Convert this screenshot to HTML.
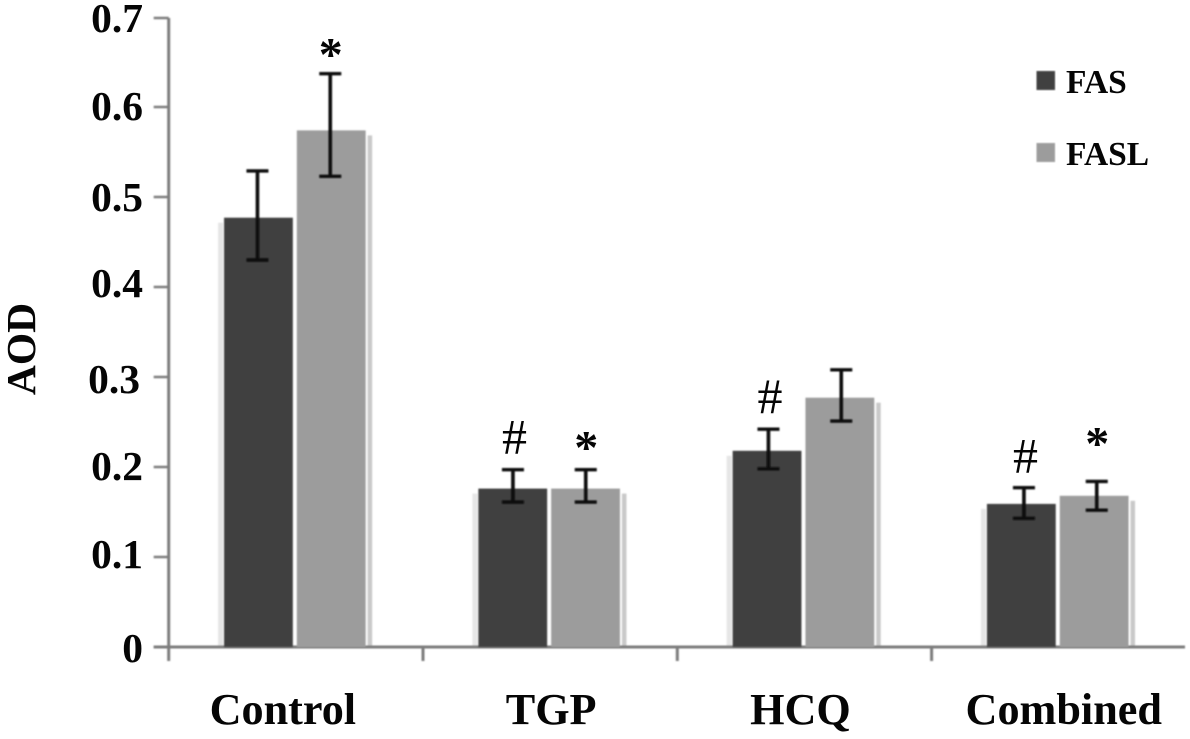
<!DOCTYPE html>
<html>
<head>
<meta charset="utf-8">
<title>AOD of FAS and FASL by treatment group</title>
<style>
  html, body { margin: 0; padding: 0; background: #fff; }
  svg { display: block; }
  text { font-family: "Liberation Serif", serif; font-weight: bold; fill: #050505; }
</style>
</head>
<body>
<svg id="chart" width="1190" height="739" viewBox="0 0 1190 739" xmlns="http://www.w3.org/2000/svg">
  <defs>
    <filter id="soft" x="-5%" y="-5%" width="110%" height="110%"><feGaussianBlur stdDeviation="0.7"/></filter>
    <filter id="softer" x="-20%" y="-5%" width="140%" height="110%"><feGaussianBlur stdDeviation="0.9"/></filter>
  </defs>
  <g id="shadows" filter="url(#softer)"></g>
  <g id="axes" filter="url(#soft)"></g>
  <g id="bars" filter="url(#soft)"></g>
  <g id="errors" filter="url(#soft)"></g>
  <g id="labels"></g>
  <g id="legend"></g>
</svg>
<script>
const categories = ['Control', 'TGP', 'HCQ', 'Combined'];
const fasValues = [0.477, 0.176, 0.218, 0.159];
const faslValues = [0.574, 0.176, 0.277, 0.168];
const fasUpper = [0.529, 0.197, 0.242, 0.177];
const fasLower = [0.430, 0.161, 0.198, 0.143];
const faslUpper = [0.637, 0.197, 0.308, 0.184];
const faslLower = [0.523, 0.161, 0.251, 0.152];
const fasMarks = ['', '#', '#', '#'];
const faslMarks = ['*', '*', '', '*'];
const yTicks = [0, 0.1, 0.2, 0.3, 0.4, 0.5, 0.6, 0.7];
const yTickLabels = ['0', '0.1', '0.2', '0.3', '0.4', '0.5', '0.6', '0.7'];

const NS = 'http://www.w3.org/2000/svg';
const plotLeft = 168.7, plotBottom = 647, groupWidth = 254.3, unitPx = 900;
const barWidth = 68.8, barGap = 4;
const FAS_COLOR = '#404040', FASL_COLOR = '#9c9c9c', AXIS_COLOR = '#7d7d7d', INK = '#0a0a0a';
// hand-placement nudges for the scanned labels (pixels)
const yLabelDrop = [15, 11, 13, 16, 10, 14, 13, 15];
const yLabelShift = [0, 0, 0, -3, 0, 0, 0, 0];
const xLabelShift = [-12, 2, -3, 6];
const fasMarkLift = [0, 16, 16, 15];
const faslMarkLift = [3, 6, 0, 22];

function yScale(v) { return plotBottom - v * unitPx; }
function groupCenter(i) { return plotLeft + groupWidth * (i + 0.5) - 1; }
function make(parent, tag, attrs) {
  const el = document.createElementNS(NS, tag);
  Object.keys(attrs).forEach(k => el.setAttribute(k, attrs[k]));
  parent.appendChild(el);
  return el;
}
const axes = document.getElementById('axes');
const bars = document.getElementById('bars');
const shadows = document.getElementById('shadows');
const errors = document.getElementById('errors');
const labels = document.getElementById('labels');
const legend = document.getElementById('legend');

// axes
const yAxis = make(axes, 'line', { x1: plotLeft, x2: plotLeft, y1: yScale(0.7) + 1, y2: plotBottom + 14, stroke: AXIS_COLOR, 'stroke-width': 3 });


const xAxis = make(axes, 'line', { x1: plotLeft - 15, x2: 1185, y1: plotBottom, y2: plotBottom, stroke: AXIS_COLOR, 'stroke-width': 3 });



yTicks.forEach((t, i) => {
  const tick = make(axes, 'line', { x1: plotLeft - 15, x2: plotLeft, y1: yScale(t) + (i === 7 ? 1 : 0), y2: yScale(t) + (i === 7 ? 1 : 0), stroke: AXIS_COLOR, 'stroke-width': 2.5 });
  
  
  const label = make(labels, 'text', { x: 143 + yLabelShift[i], y: yScale(t) + yLabelDrop[i], 'text-anchor': 'end', 'font-size': 41.5 });
  label.textContent = yTickLabels[i];
  
  
});

for (let i = 1; i < categories.length; i++) {
  const tick = make(axes, 'line', { x1: plotLeft + groupWidth * i, x2: plotLeft + groupWidth * i, y1: plotBottom, y2: plotBottom + 14, stroke: AXIS_COLOR, 'stroke-width': 3 });
  
  
}

function drawBar(i, side, value, upper, lower, color, mark, lift) {
  const c = groupCenter(i);
  const x = side === 0 ? c - barGap / 2 - barWidth : c + barGap / 2;
  const top = yScale(value);

  const shRight = make(shadows, 'rect', { x: x + barWidth + (side === 0 ? 0 : 2), y: top + 5, width: side === 0 ? 0 : 4.5, height: plotBottom - top - 5, fill: '#c9c9c9' });
  
  
  const shLeft = make(shadows, 'rect', { x: x - 6, y: top + 5, width: side === 0 ? 5 : 0, height: plotBottom - top - 5, fill: '#e6e6e6' });
  
  

  const bar = make(bars, 'rect', { x: x, y: top, width: barWidth, height: plotBottom - top, fill: color });
  
  

  const ex = x + barWidth / 2 + (i * 1.2 - 1);
  const stem = make(errors, 'line', { x1: ex, x2: ex, y1: yScale(upper), y2: yScale(lower), stroke: INK, 'stroke-width': 3.6 });
  
  
  [upper, lower].forEach(v => {
    const cap = make(errors, 'line', { x1: ex - 11, x2: ex + 11, y1: yScale(v), y2: yScale(v), stroke: INK, 'stroke-width': 3.4 });
    
    
  });

  if (mark) {
    const isHash = mark === '#';
    const m = make(labels, 'text', {
      x: ex + (isHash ? 1.5 : 0.5),
      y: yScale(upper) - lift,
      'text-anchor': 'middle',
      'font-size': isHash ? 50 : 48
    });
    m.textContent = mark;
    if (isHash) { m.setAttribute('style', 'font-weight:normal'); }
    
    
  }
}

categories.forEach((name, i) => {
  drawBar(i, 0, fasValues[i], fasUpper[i], fasLower[i], FAS_COLOR, fasMarks[i], fasMarkLift[i]);
  drawBar(i, 1, faslValues[i], faslUpper[i], faslLower[i], FASL_COLOR, faslMarks[i], faslMarkLift[i]);
  const label = make(labels, 'text', { x: groupCenter(i) + xLabelShift[i], y: 724, 'text-anchor': 'middle', 'font-size': 44.2 });
  label.textContent = name;
  
  
});

// y-axis title
const yTitle = make(labels, 'text', { x: 0, y: 0, transform: 'translate(35,349) rotate(-90)', 'text-anchor': 'middle', 'font-size': 41.5 });
yTitle.textContent = 'AOD';



// legend
const legendNames = ['FAS', 'FASL'];
const legendColors = [FAS_COLOR, FASL_COLOR];
const legendY = [71, 143];
legendNames.forEach((name, i) => {
  const sw = make(legend, 'rect', { x: 1036.5, y: legendY[i], width: 18.5, height: 19, fill: legendColors[i], filter: 'url(#soft)' });
  
  
  const t = make(legend, 'text', { x: 1066, y: legendY[i] + 22, 'font-size': 33.5 });
  t.textContent = name;
  
  
});
</script>
</body>
</html>
